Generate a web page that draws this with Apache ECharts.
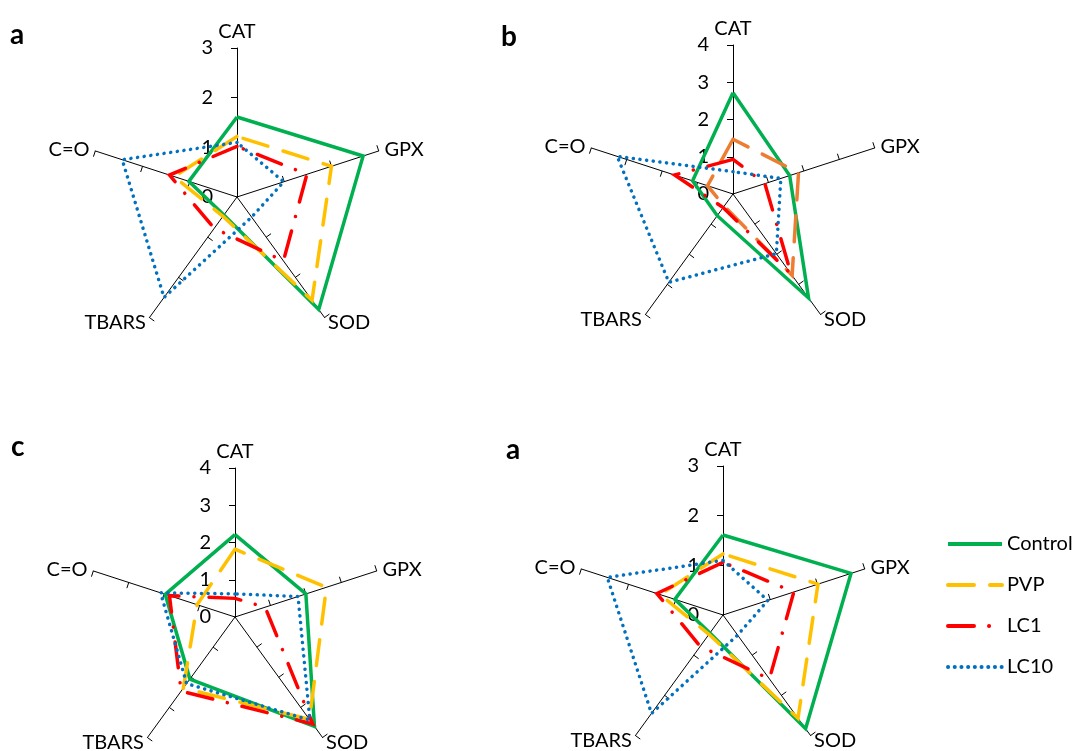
<!DOCTYPE html>
<html>
<head>
<meta charset="utf-8">
<script src="https://cdn.jsdelivr.net/npm/echarts@6/dist/echarts.min.js"></script>
<style>
html, body { margin: 0; padding: 0; background: #fff; }
#main { width: 1075px; height: 751px; }
</style>
</head>
<body>
<div id="main"></div>
<script>
// axes read clockwise from the top
var axisNames = ['CAT', 'GPX', 'SOD', 'TBARS', 'C=O'];
var groups = ['Control', 'PVP', 'LC1', 'LC10'];
var panelLetters = ['a', 'b', 'c', 'a'];
var panelMax = [3, 4, 4, 3];

// panel a
var aControl = [1.61, 2.67, 2.80, 0.45, 1.02];
var aPVP     = [1.22, 2.00, 2.57, 0.48, 1.33];
var aLC1     = [1.02, 1.48, 1.59, 0.78, 1.43];
var aLC10    = [1.10, 0.99, 0.50, 2.50, 2.43];
// panel b
var bControl = [2.72, 1.60, 3.45, 0.72, 1.14];
var bPVP     = [1.47, 1.85, 2.70, 0.40, 0.72];
var bLC1     = [0.93, 0.90, 2.65, 0.45, 1.65];
var bLC10    = [0.60, 1.35, 1.98, 2.93, 3.27];
// panel c
var cControl = [2.21, 2.00, 3.63, 2.06, 1.97];
var cPVP     = [1.82, 2.58, 3.40, 2.36, 1.07];
var cLC1     = [0.50, 0.85, 3.55, 2.46, 1.85];
var cLC10    = [0.62, 1.78, 3.42, 2.21, 2.10];
// panel d (labelled "a" again in the figure)
var dControl = [1.61, 2.71, 2.83, 0.45, 1.02];
var dPVP     = [1.23, 2.01, 2.57, 0.48, 1.33];
var dLC1     = [1.06, 1.50, 1.59, 0.78, 1.40];
var dLC10    = [1.10, 0.95, 0.50, 2.45, 2.45];

var panels = [
    [aControl, aPVP, aLC1, aLC10],
    [bControl, bPVP, bLC1, bLC10],
    [cControl, cPVP, cLC1, cLC10],
    [dControl, dPVP, dLC1, dLC10]
];

var centers = [[237, 197], [733, 194], [235, 617], [723, 615]];
var titlePos = [[5, 16], [496, 18], [6, 428], [501, 431]];

var FONT = 'Lato';
var colors = {Control: '#00B050', PVP: '#FFC000', LC1: '#FF0000', LC10: '#0070C0'};
var dashes = {
    Control: {type: 'solid', cap: 'butt'},
    PVP: {type: [26, 16], cap: 'round'},
    LC1: {type: [26, 15, 0.1, 15], cap: 'round'},
    LC10: {type: [0.1, 6.6], cap: 'round'}
};

// echarts goes round the radar anticlockwise
var order = [0, 4, 3, 2, 1];
function reorder(arr) {
    return order.map(function (k) { return arr[k]; });
}

function lineStyleFor(g, color) {
    return {
        color: color,
        width: 3.5,
        type: dashes[g].type,
        cap: dashes[g].cap,
        join: 'miter'
    };
}

// tick marks from 1 up to max (none at the centre)
function tickValues(max) {
    var t = [];
    for (var v = 1; v <= max; v++) t.push(v);
    return t;
}

var myChart = echarts.init(document.getElementById('main'));

var radars = [], series = [], titles = [];

// empty line series only to get line-shaped legend icons
groups.forEach(function (g) {
    series.push({
        type: 'line',
        name: g,
        data: [],
        symbol: 'none',
        xAxisIndex: 0,
        yAxisIndex: 0,
        itemStyle: {color: colors[g]},
        lineStyle: lineStyleFor(g, colors[g])
    });
});

panels.forEach(function (panel, i) {
    radars.push({
        center: centers[i],
        radius: 149,
        startAngle: 90,
        shape: 'polygon',
        splitNumber: panelMax[i],
        nameGap: 6,
        axisName: {color: '#000', fontSize: 20, fontFamily: FONT},
        indicator: reorder(axisNames).map(function (n) {
            return {name: n, min: 0, max: panelMax[i], axisLabel: {show: n === 'CAT'}};
        }),
        axisLine: {lineStyle: {color: '#000', width: 1}},
        axisTick: {show: true, length: 6, customValues: tickValues(panelMax[i]), lineStyle: {color: '#000', width: 1}},
        axisLabel: {show: true, color: '#000', fontSize: 20, fontFamily: FONT, margin: 24},
        splitLine: {show: false},
        splitArea: {show: false}
    });
    titles.push({
        text: panelLetters[i],
        left: titlePos[i][0],
        top: titlePos[i][1],
        textStyle: {fontSize: 28, fontWeight: 'bold', fontFamily: FONT, color: '#000'}
    });
    panel.forEach(function (vals, k) {
        var g = groups[k];
        // panel b draws PVP in orange
        var c = (i === 1 && g === 'PVP') ? '#ED7D31' : colors[g];
        series.push({
            type: 'radar',
            radarIndex: i,
            name: g,
            symbol: 'none',
            silent: true,
            itemStyle: {color: c},
            lineStyle: lineStyleFor(g, c),
            data: [{value: reorder(vals), name: g}]
        });
    });
});

var option = {
    animation: false,
    backgroundColor: '#fff',
    title: titles,
    grid: {left: 0, top: 0, width: 10, height: 10, show: false},
    xAxis: {type: 'value', show: false},
    yAxis: {type: 'value', show: false},
    legend: {
        orient: 'vertical',
        left: 941,
        top: 529,
        itemWidth: 54,
        itemHeight: 14,
        itemGap: 21,
        selectedMode: false,
        data: groups,
        itemStyle: {opacity: 0},
        lineStyle: {width: 4},
        textStyle: {fontSize: 20, fontFamily: FONT, color: '#000'}
    },
    radar: radars,
    series: series
};

myChart.setOption(option);
</script>
</body>
</html>
